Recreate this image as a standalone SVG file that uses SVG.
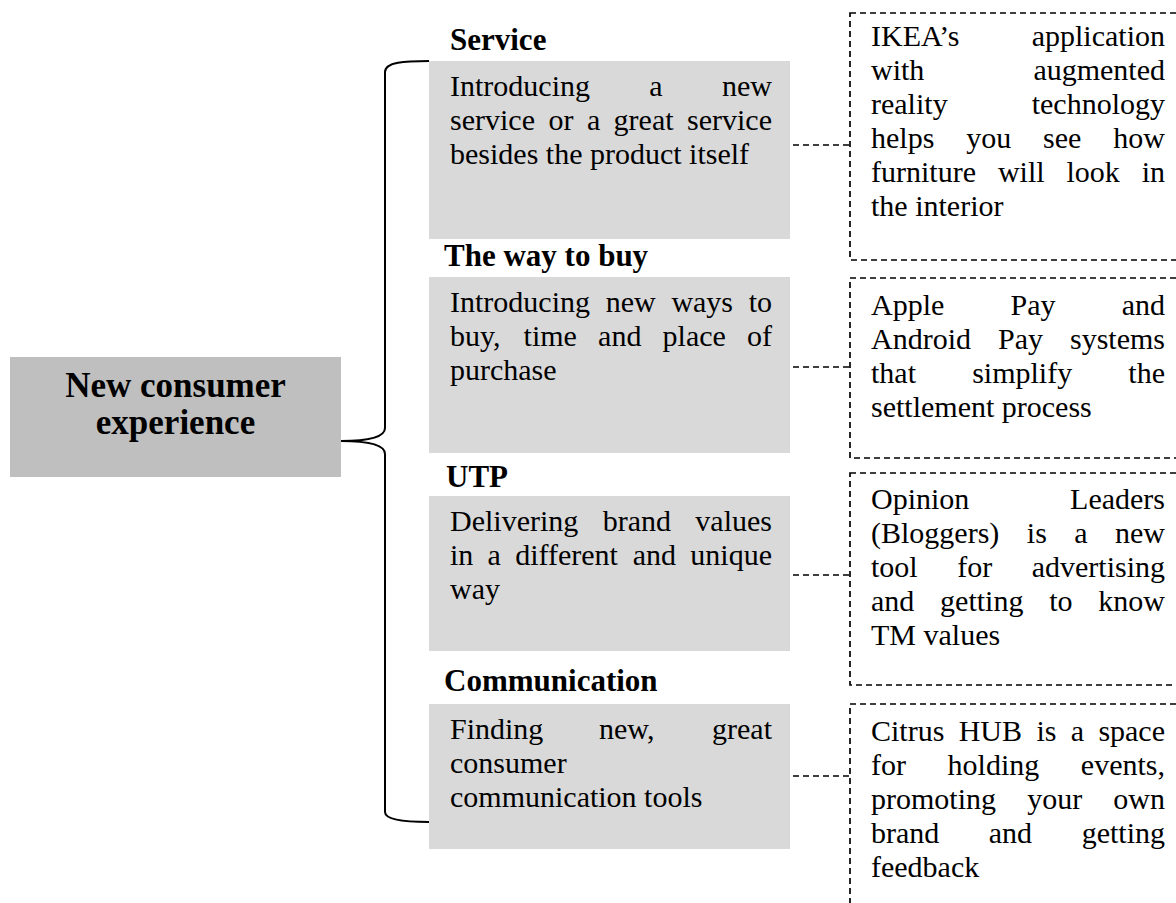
<svg xmlns="http://www.w3.org/2000/svg" width="1176" height="903" viewBox="0 0 1176 903">
<style>
text{font-family:"Liberation Serif","Times New Roman",serif;fill:#000}
.b{font-size:30px}
.h{font-size:31px;font-weight:bold}
.t{font-size:35px;font-weight:bold;text-anchor:middle}
.g{fill:#d9d9d9}
.d{fill:none;stroke:#000;stroke-width:1.7;stroke-dasharray:6 4}
.c{fill:none;stroke:#000;stroke-width:1.7;stroke-dasharray:6 4}
</style>
<rect width="1176" height="903" fill="#fff"/>
<g id="root">
<rect x="10" y="357" width="331" height="120" fill="#bfbfbf"/>
<text class="t" x="175.5" y="397">New consumer</text>
<text class="t" x="175.5" y="434">experience</text>
</g>
<g id="brace">
<path d="M429,61 C405,61 385,62 385,72 L385,428 C385,436 372,441 341,441 C372,441 385,446 385,454 L385,812 C385,820 405,822 429,822" fill="none" stroke="#000" stroke-width="2"/>
</g>
<g id="service">
<text class="h" x="450" y="50">Service</text>
<rect class="g" x="429" y="61" width="361" height="178"/>
<text class="b" y="96"><tspan x="450">Introducing</tspan><tspan x="649.3">a</tspan><tspan x="772" text-anchor="end">new</tspan></text>
<text class="b" y="130"><tspan x="450">service</tspan><tspan x="548.4">or</tspan><tspan x="586.9">a</tspan><tspan x="613.6">great</tspan><tspan x="772" text-anchor="end">service</tspan></text>
<text class="b" x="450" y="164">besides the product itself</text>
</g>
<g id="way">
<text class="h" x="444" y="266">The way to buy</text>
<rect class="g" x="429" y="277" width="361" height="176"/>
<text class="b" y="312"><tspan x="450">Introducing</tspan><tspan x="605.7">new</tspan><tspan x="671.4">ways</tspan><tspan x="772" text-anchor="end">to</tspan></text>
<text class="b" y="346"><tspan x="450">buy,</tspan><tspan x="523.6">time</tspan><tspan x="598.1">and</tspan><tspan x="662.6">place</tspan><tspan x="772" text-anchor="end">of</tspan></text>
<text class="b" x="450" y="380">purchase</text>
</g>
<g id="utp">
<text class="h" x="446" y="487">UTP</text>
<rect class="g" x="429" y="496" width="361" height="155"/>
<text class="b" y="531"><tspan x="450">Delivering</tspan><tspan x="602.7">brand</tspan><tspan x="772" text-anchor="end">values</tspan></text>
<text class="b" y="565"><tspan x="450">in</tspan><tspan x="487.6">a</tspan><tspan x="515.2">different</tspan><tspan x="632.8">and</tspan><tspan x="772" text-anchor="end">unique</tspan></text>
<text class="b" x="450" y="599">way</text>
</g>
<g id="communication">
<text class="h" x="444" y="691">Communication</text>
<rect class="g" x="429" y="704" width="361" height="145"/>
<text class="b" y="739"><tspan x="450">Finding</tspan><tspan x="599">new,</tspan><tspan x="772" text-anchor="end">great</tspan></text>
<text class="b" x="450" y="773">consumer</text>
<text class="b" x="450" y="807">communication tools</text>
</g>
<g id="ikea">
<rect class="d" x="850" y="13" width="400" height="247"/>
<text class="b" y="46"><tspan x="871">IKEA’s</tspan><tspan x="1165" text-anchor="end">application</tspan></text>
<text class="b" y="80"><tspan x="871">with</tspan><tspan x="1165" text-anchor="end">augmented</tspan></text>
<text class="b" y="114"><tspan x="871">reality</tspan><tspan x="1165" text-anchor="end">technology</tspan></text>
<text class="b" y="148"><tspan x="871">helps</tspan><tspan x="966.2">you</tspan><tspan x="1043.1">see</tspan><tspan x="1165" text-anchor="end">how</tspan></text>
<text class="b" y="182"><tspan x="871">furniture</tspan><tspan x="997.9">will</tspan><tspan x="1066.5">look</tspan><tspan x="1165" text-anchor="end">in</tspan></text>
<text class="b" x="871" y="216">the interior</text>
</g>
<g id="pay">
<rect class="d" x="850" y="278" width="400" height="180"/>
<text class="b" y="315"><tspan x="871">Apple</tspan><tspan x="1010.5">Pay</tspan><tspan x="1165" text-anchor="end">and</tspan></text>
<text class="b" y="349"><tspan x="871">Android</tspan><tspan x="998">Pay</tspan><tspan x="1165" text-anchor="end">systems</tspan></text>
<text class="b" y="383"><tspan x="871">that</tspan><tspan x="972.2">simplify</tspan><tspan x="1165" text-anchor="end">the</tspan></text>
<text class="b" x="871" y="417">settlement process</text>
</g>
<g id="opinion">
<rect class="d" x="850" y="473" width="400" height="212"/>
<text class="b" y="509"><tspan x="871">Opinion</tspan><tspan x="1165" text-anchor="end">Leaders</tspan></text>
<text class="b" y="543"><tspan x="871">(Bloggers)</tspan><tspan x="1026.8">is</tspan><tspan x="1074.3">a</tspan><tspan x="1165" text-anchor="end">new</tspan></text>
<text class="b" y="577"><tspan x="871">tool</tspan><tspan x="957.2">for</tspan><tspan x="1165" text-anchor="end">advertising</tspan></text>
<text class="b" y="611"><tspan x="871">and</tspan><tspan x="940.1">getting</tspan><tspan x="1049.2">to</tspan><tspan x="1165" text-anchor="end">know</tspan></text>
<text class="b" x="871" y="645">TM values</text>
</g>
<g id="citrus">
<rect class="d" x="850" y="704" width="400" height="260"/>
<text class="b" y="741"><tspan x="871">Citrus</tspan><tspan x="958.7">HUB</tspan><tspan x="1036.4">is</tspan><tspan x="1070.8">a</tspan><tspan x="1165" text-anchor="end">space</tspan></text>
<text class="b" y="775"><tspan x="871">for</tspan><tspan x="947.6">holding</tspan><tspan x="1165" text-anchor="end">events,</tspan></text>
<text class="b" y="809"><tspan x="871">promoting</tspan><tspan x="1027.2">your</tspan><tspan x="1165" text-anchor="end">own</tspan></text>
<text class="b" y="843"><tspan x="871">brand</tspan><tspan x="988.8">and</tspan><tspan x="1165" text-anchor="end">getting</tspan></text>
<text class="b" x="871" y="877">feedback</text>
</g>
<g id="connectors">
<line class="c" x1="793" y1="145" x2="850" y2="145"/>
<line class="c" x1="793" y1="367" x2="850" y2="367"/>
<line class="c" x1="793" y1="575" x2="850" y2="575"/>
<line class="c" x1="793" y1="776" x2="850" y2="776"/>
</g>
</svg>
